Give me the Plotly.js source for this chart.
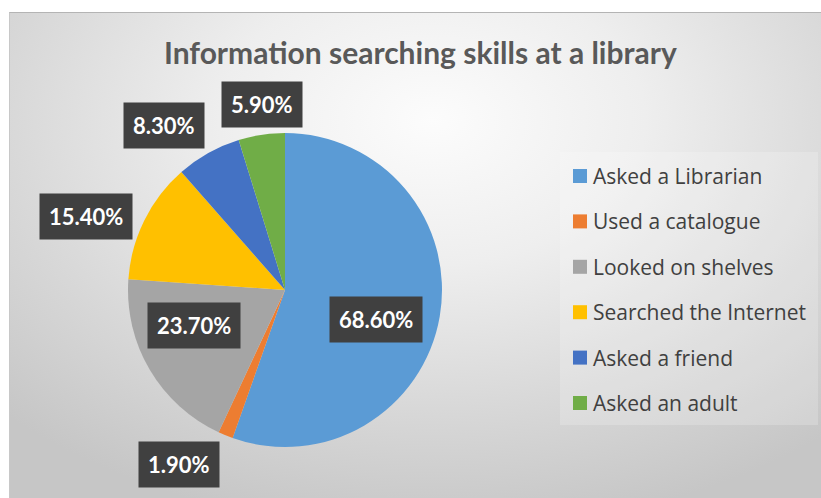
<!DOCTYPE html>
<html>
<head>
<meta charset="utf-8">
<script src="https://cdn.plot.ly/plotly-3.0.1.min.js"></script>
<style>
  html, body { margin: 0; padding: 0; background: #ffffff; }
  #wrap { position: relative; width: 821px; height: 498px; overflow: hidden; background: #ffffff; }
  #bg { position: absolute; left: 9px; top: 12px; width: 812px; height: 486px;
        border-top: 1px solid #b4b4b4; border-left: 1px solid #c8c8c8;
        background: radial-gradient(ellipse 75% 85% at 52% 22%, #fcfcfc 0%, #eeeeee 35%, #d8d8d8 70%, #c6c6c6 100%); }
  #chart { position: absolute; left: 0; top: 0; width: 821px; height: 498px; }
</style>
</head>
<body>
<div id="wrap"><div id="bg"></div><div id="chart"></div></div>
<script>
// ---- data ----
var categories = ["Asked a Librarian", "Used a catalogue", "Looked on shelves", "Searched the Internet", "Asked a friend", "Asked an adult"];
var values = [68.6, 1.9, 23.7, 15.4, 8.3, 5.9];
var labelTexts = ["68.60%", "1.90%", "23.70%", "15.40%", "8.30%", "5.90%"];
var colors = ["#5B9BD5", "#ED7D31", "#A5A5A5", "#FFC000", "#4472C4", "#70AD47"];

// ---- geometry (styling) ----
var W = 821, H = 498;
var cx = 285, cy = 290, R = 157;           // pixel centre / radius of the pie
var labelRadius = [0.61, 1.30, 0.62, 1.35, 1.30, 1.19];
var labelAngleShift = [8, 9, 9, -6, -7, 1.5];

var trace = {
  type: "pie",
  labels: categories,
  values: values,
  marker: { colors: colors, line: { width: 0 } },
  sort: false,
  direction: "clockwise",
  rotation: 0,
  textinfo: "none",
  hoverinfo: "label+value",
  showlegend: false,
  domain: { x: [(cx - R) / W, (cx + R) / W], y: [(H - cy - R) / H, (H - cy + R) / H] }
};

var total = values.reduce(function (a, b) { return a + b; }, 0);
var annotations = [];
var shapes = [];
var cum = 0;
for (var i = 0; i < values.length; i++) {
  var mid = (cum + values[i] / 2) / total * 360 + labelAngleShift[i];
  cum += values[i];
  var th = mid * Math.PI / 180;
  var px = cx + R * labelRadius[i] * Math.sin(th);
  var py = cy - R * labelRadius[i] * Math.cos(th);
  annotations.push({
    xref: "paper", yref: "paper", x: px / W, y: 1 - py / H,
    xanchor: "center", yanchor: "middle", showarrow: false,
    text: "<b>" + labelTexts[i] + "</b>",
    font: { family: "Lato, 'Open Sans', sans-serif", size: 22, color: "#ffffff" },
    bgcolor: "#404040", borderpad: 9
  });
}

// manual legend built from the category arrays
var legX = 573, legY0 = 176, legStep = 45.4, sw = 14;
shapes.push({ type: "rect", xref: "paper", yref: "paper", layer: "below",
  x0: 560 / W, x1: 818 / W, y0: 1 - 425 / H, y1: 1 - 152 / H,
  fillcolor: "rgba(255,255,255,0.2)", line: { width: 0 } });
for (var j = 0; j < categories.length; j++) {
  var yy = legY0 + j * legStep;
  shapes.push({ type: "rect", xref: "paper", yref: "paper",
    x0: legX / W, x1: (legX + sw) / W, y0: 1 - (yy + sw / 2) / H, y1: 1 - (yy - sw / 2) / H,
    fillcolor: colors[j], line: { width: 0 } });
  annotations.push({ xref: "paper", yref: "paper", x: (legX + sw + 4) / W, y: 1 - yy / H,
    xanchor: "left", yanchor: "middle", showarrow: false, text: categories[j],
    font: { family: "'Open Sans', Lato, sans-serif", size: 21, color: "#404040" } });
}

var layout = {
  width: W, height: H,
  margin: { l: 0, r: 0, t: 0, b: 0 },
  paper_bgcolor: "rgba(0,0,0,0)",
  plot_bgcolor: "rgba(0,0,0,0)",
  title: { text: "<b>Information searching skills at a library</b>",
    font: { family: "Lato, 'Open Sans', sans-serif", size: 30, color: "#595959" },
    x: 0.512, xanchor: "center", y: 1 - 53 / H, yanchor: "middle", xref: "paper", yref: "container" },
  showlegend: false,
  annotations: annotations,
  shapes: shapes
};

Plotly.newPlot("chart", [trace], layout, { displayModeBar: false, staticPlot: true });
</script>
</body>
</html>
